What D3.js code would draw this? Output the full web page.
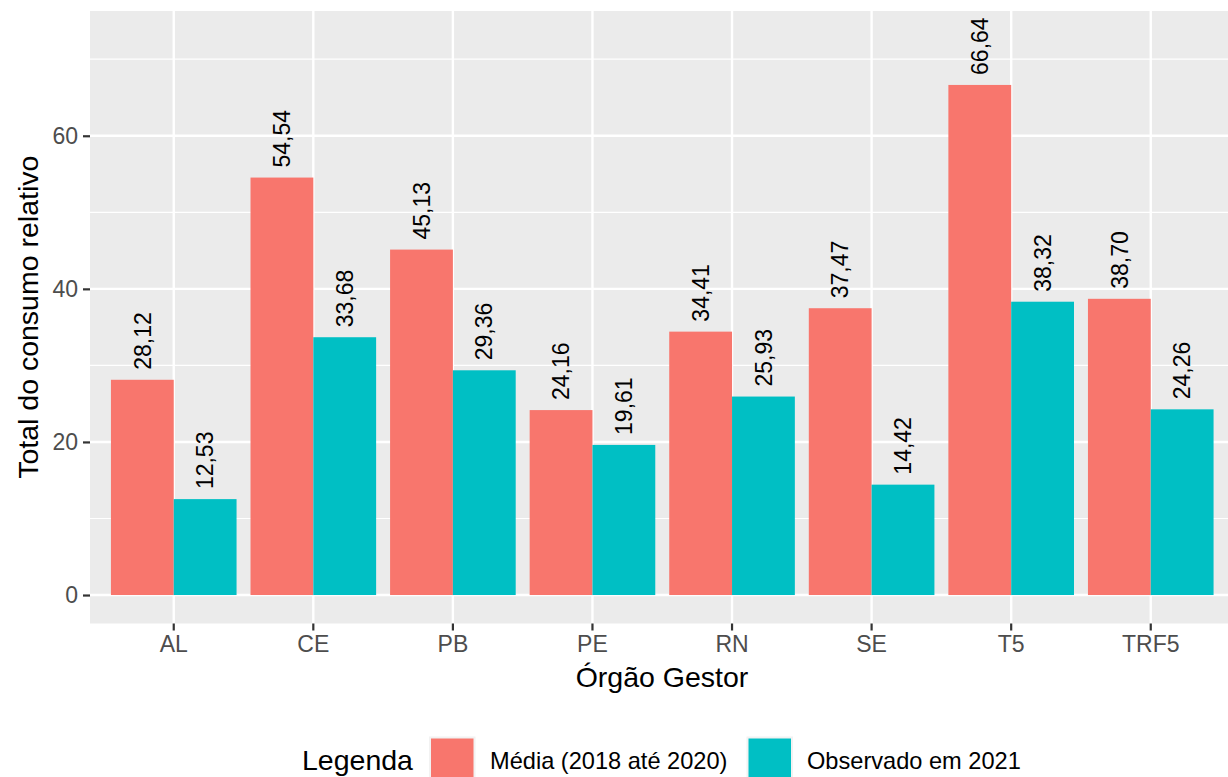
<!DOCTYPE html>
<html><head><meta charset="utf-8">
<script src="https://cdn.jsdelivr.net/npm/d3@7"></script>
<style>body{margin:0;background:#fff;overflow:hidden;} text{font-family:"Liberation Sans",Arial,sans-serif;}</style>
</head><body>
<svg id="chart" width="1228" height="777"></svg>
<script>
const categories = ["AL","CE","PB","PE","RN","SE","T5","TRF5"];
const seriesNames = ["Média (2018 até 2020)","Observado em 2021"];
const media = [28.12,54.54,45.13,24.16,34.41,37.47,66.64,38.70];
const observado = [12.53,33.68,29.36,19.61,25.93,14.42,38.32,24.26];
const yTicks = [0,20,40,60];
const yMinor = [10,30,50,70];
const colors = ["#F8766D","#00BFC4"];

const svg = d3.select("#chart");
const pL = 90, pR = 1234.5, pT = 11, pB = 623.5;

const x = d3.scaleBand().domain(categories).range([pL,pR]).paddingInner(0.1).paddingOuter(0.15);
const xs = d3.scaleBand().domain(seriesNames).range([0,x.bandwidth()]).padding(0);
const y = d3.scaleLinear().domain([-3.72,76.3]).range([pB,pT]);
const color = d3.scaleOrdinal().domain(seriesNames).range(colors);

const data = categories.flatMap((c,i)=>[
  {cat:c, s:seriesNames[0], v:media[i]},
  {cat:c, s:seriesNames[1], v:observado[i]}
]);

// panel
svg.append("rect").attr("x",pL).attr("y",pT).attr("width",pR-pL).attr("height",pB-pT).attr("fill","#EBEBEB");
const g = svg.append("g");
g.selectAll(".minor").data(yMinor).join("line")
  .attr("x1",pL).attr("x2",pR).attr("y1",d=>y(d)).attr("y2",d=>y(d))
  .attr("stroke","#fff").attr("stroke-width",1.2);
g.selectAll(".majy").data(yTicks).join("line")
  .attr("x1",pL).attr("x2",pR).attr("y1",d=>y(d)).attr("y2",d=>y(d))
  .attr("stroke","#fff").attr("stroke-width",2.4);
g.selectAll(".majx").data(categories).join("line")
  .attr("x1",d=>x(d)+x.bandwidth()/2).attr("x2",d=>x(d)+x.bandwidth()/2).attr("y1",pT).attr("y2",pB)
  .attr("stroke","#fff").attr("stroke-width",2.4);

// bars
svg.append("g").selectAll("rect").data(data).join("rect")
  .attr("x",d=>x(d.cat)+xs(d.s))
  .attr("width",xs.bandwidth())
  .attr("y",d=>y(d.v))
  .attr("height",d=>y(0)-y(d.v))
  .attr("fill",d=>color(d.s));

// labels
const fmt = v => v.toFixed(2).replace(".",",");
svg.append("g").selectAll("text").data(data).join("text")
  .attr("transform",d=>`translate(${x(d.cat)+xs(d.s)+xs.bandwidth()/2+8.2},${y(d.v)-10}) rotate(-90)`)
  .attr("text-anchor","start")
  .attr("font-size",23)
  .attr("fill","#000")
  .text(d=>fmt(d.v));

// axes
const yAxis = d3.axisLeft(y).tickValues(yTicks).tickSize(7).tickPadding(5).tickFormat(d3.format("d"));
const ya = svg.append("g").attr("transform",`translate(${pL},0)`).call(yAxis);
ya.select(".domain").remove();
ya.selectAll(".tick line").attr("stroke","#333").attr("stroke-width",2.2);
ya.selectAll(".tick text").attr("font-size",23).attr("fill","#4D4D4D").attr("font-family","Liberation Sans, Arial, sans-serif");

const xAxis = d3.axisBottom(x).tickSize(7).tickPadding(5);
const xa = svg.append("g").attr("transform",`translate(0,${pB})`).call(xAxis);
xa.select(".domain").remove();
xa.selectAll(".tick line").attr("stroke","#333").attr("stroke-width",2.2);
xa.selectAll(".tick text").attr("font-size",23).attr("fill","#4D4D4D").attr("font-family","Liberation Sans, Arial, sans-serif");

// axis titles
svg.append("text").attr("x",(pL+1228)/2+3).attr("y",687).attr("text-anchor","middle")
  .attr("font-size",28.5).attr("fill","#000").text("Órgão Gestor");
svg.append("text").attr("transform",`translate(38,${(pT+pB)/2}) rotate(-90)`).attr("text-anchor","middle")
  .attr("font-size",28.5).attr("fill","#000").text("Total do consumo relativo");

// legend
const lg = svg.append("g");
lg.append("text").attr("x",302).attr("y",770).attr("font-size",28.5).attr("fill","#000").text("Legenda");
const keyX = [429, 746.5];
const labX = [490, 807];
seriesNames.forEach((s,i)=>{
  lg.append("rect").attr("x",keyX[i]).attr("y",736.5).attr("width",46.5).attr("height",46).attr("fill","#F2F2F2");
  lg.append("rect").attr("x",keyX[i]+2).attr("y",738.5).attr("width",42.5).attr("height",43).attr("fill",color(s));
  lg.append("text").attr("x",labX[i]).attr("y",769).attr("font-size",23.6).attr("fill","#000").text(s);
});
</script>
</body></html>
